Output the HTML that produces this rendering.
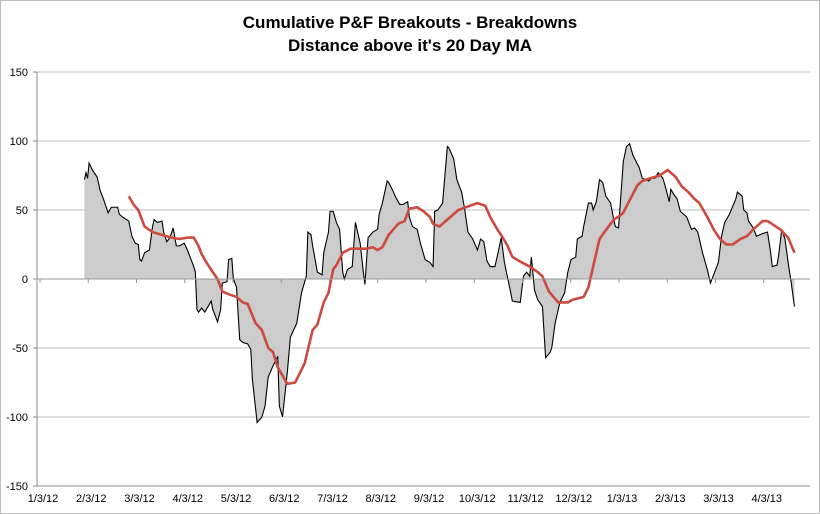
<!DOCTYPE html>
<html><head><meta charset="utf-8"><style>
body{margin:0;background:#fff;}
svg{display:block;font-family:"Liberation Sans",sans-serif;}
</style></head><body>
<svg id="chart" width="820" height="514">
<rect x="0.5" y="0.5" width="819" height="513" fill="#fff" stroke="#bdbdbd"/>
<text x="410" y="28" text-anchor="middle" font-size="17" font-weight="bold">Cumulative P&amp;F Breakouts - Breakdowns</text>
<text x="410" y="51" text-anchor="middle" font-size="17" font-weight="bold">Distance above it's 20 Day MA</text>
<g id="grid"></g><g id="marks"></g><g id="axes"></g>
</svg>
<script>
const yTicks=[150,100,50,0,-50,-100,-150];
const monthLabels=["1/3/12","2/3/12","3/3/12","4/3/12","5/3/12","6/3/12","7/3/12","8/3/12","9/3/12","10/3/12","11/3/12","12/3/12","1/3/13","2/3/13","3/3/13","4/3/13"];
// days since 1/3/12
const seriesDays=[28,29,30,31,33,36,38,40,43,45,49,50,52,56,58,60,62,63,64,66,69,71,72,74,77,78,80,82,84,86,88,91,93,97,98,99,100,102,104,108,109,112,114,115,118,119,121,122,124,126,128,131,133,134,137,140,142,144,147,150,151,153,156,158,162,165,168,169,171,172,175,178,179,182,183,185,187,189,191,192,194,197,199,202,204,205,207,210,213,214,216,219,220,223,225,227,229,232,233,235,238,240,243,246,248,249,251,254,257,258,261,263,266,268,270,273,276,278,280,282,284,287,289,291,293,297,298,303,305,307,309,310,312,314,317,319,322,323,325,328,331,333,335,338,339,342,343,346,348,349,351,353,355,357,360,362,363,365,368,370,372,374,377,378,380,384,386,388,390,393,395,397,398,400,402,404,406,408,411,413,415,418,421,423,425,428,430,432,435,439,440,443,444,446,447,450,452,456,459,461,462,465,466,468,470,472,474,476];
const seriesValues=[72,77,73,84,79,74,64,58,48,52,52,47,45,42,31,26,25,14,13,19,21,38,43,41,42,34,27,30,37,24,24,26,21,9,5,-22,-24,-21,-24,-16,-22,-31,-22,-3,-2,14,15,0,-6,-44,-46,-47,-51,-73,-104,-100,-92,-71,-63,-56,-92,-100,-68,-42,-32,-10,2,34,32,24,5,3,19,34,49,49,41,36,5,0,7,9,41,26,5,-4,30,34,36,47,55,71,70,63,58,54,54,56,45,38,36,26,14,12,9,49,50,55,96,95,87,72,63,50,34,29,21,29,27,13,9,9,19,30,12,-10,-16,-17,2,5,2,16,-8,-15,-20,-57,-53,-49,-32,-17,-10,5,14,16,29,31,38,55,55,50,56,72,70,60,55,43,38,37,85,96,98,90,83,81,73,71,73,73,77,73,65,56,65,61,58,49,47,45,36,37,34,19,7,-3,3,12,31,41,47,58,63,60,50,48,42,37,31,33,34,19,9,10,17,36,29,12,-3,-20];
const maDays=[56,59,62,66,71,77,83,88,93,97,100,102,105,109,112,115,119,124,128,131,136,140,144,147,150,153,156,161,164,167,172,175,179,182,185,187,191,196,202,206,210,213,216,220,223,226,230,233,238,242,246,248,252,257,264,271,276,281,284,288,292,295,298,304,309,314,317,321,324,327,333,336,343,346,349,353,358,362,366,368,372,377,380,385,391,396,401,405,409,413,416,421,425,429,433,437,442,446,450,456,459,463,467,472,476];
const maValues=[60,54,50,38,34,32,30,29,30,30,24,18,12,5,0,-9,-11,-13,-17,-18,-32,-37,-50,-53,-64,-70,-76,-75,-68,-61,-37,-33,-17,-10,7,10,19,22,22,22,23,21,23,32,36,40,42,51,52,49,45,40,38,43,50,53,55,53,45,37,30,24,16,12,9,5,2,-9,-13,-17,-17,-15,-13,-6,9,29,37,43,46,48,57,68,71,73,75,79,74,67,63,58,55,45,36,29,25,25,29,31,36,42,42,39,36,30,19];

const NS="http://www.w3.org/2000/svg";
const L=37,R=810,T=72,B=486;
function yS(v){return T+(150-v)*(B-T)/300;}
function xS(d){return 40+d*1.585;}
function mk(tag,attrs,parent){const e=document.createElementNS(NS,tag);for(const k in attrs)e.setAttribute(k,attrs[k]);parent.appendChild(e);return e;}
const grid=document.getElementById('grid'),marks=document.getElementById('marks'),axes=document.getElementById('axes');
yTicks.forEach(v=>{
  if(v!==-150){const g=mk('line',{x1:L,x2:R,y1:yS(v),y2:yS(v),stroke:'#bfbfbf','stroke-width':1},grid);
  
  }
  const t=mk('text',{x:L-9,y:yS(v)+4,'text-anchor':'end','font-size':11,fill:'#000'},axes);
  t.textContent=v;
  
  
  const tk=mk('line',{x1:L-4,x2:L,y1:yS(v),y2:yS(v),stroke:'#888'},axes);
  
  
});
// area
let d='M'+xS(seriesDays[0])+','+yS(0);
seriesDays.forEach((dd,i)=>{d+=' L'+xS(dd)+','+yS(seriesValues[i]);});
d+=' L'+xS(seriesDays[seriesDays.length-1])+','+yS(0)+' Z';
const area=mk('path',{d:d,fill:'#cccccc',stroke:'none'},marks);


const line=mk('polyline',{points:seriesDays.map((dd,i)=>xS(dd)+','+yS(seriesValues[i])).join(' '),fill:'none',stroke:'#000','stroke-width':1.1},marks);


const ma=mk('polyline',{points:maDays.map((dd,i)=>xS(dd)+','+yS(maValues[i])).join(' '),fill:'none',stroke:'#cc4a40','stroke-width':2.6,'stroke-linejoin':'round'},marks);


// axes
const ya=mk('line',{x1:L,x2:L,y1:T,y2:B,stroke:'#888'},axes);


const xa=mk('line',{x1:L,x2:R,y1:B,y2:B,stroke:'#888'},axes);


const za=mk('line',{x1:L,x2:R,y1:yS(0),y2:yS(0),stroke:'#999'},axes);


monthLabels.forEach((m,i)=>{
  const x=40+i*48.25;
  const tk=mk('line',{x1:x,x2:x,y1:yS(0),y2:yS(0)+4,stroke:'#999'},axes);
  
  
  const t=mk('text',{x:x+3,y:502,'text-anchor':'middle','font-size':11,fill:'#000'},axes);
  t.textContent=m;
  
  
});
</script>
</body></html>
